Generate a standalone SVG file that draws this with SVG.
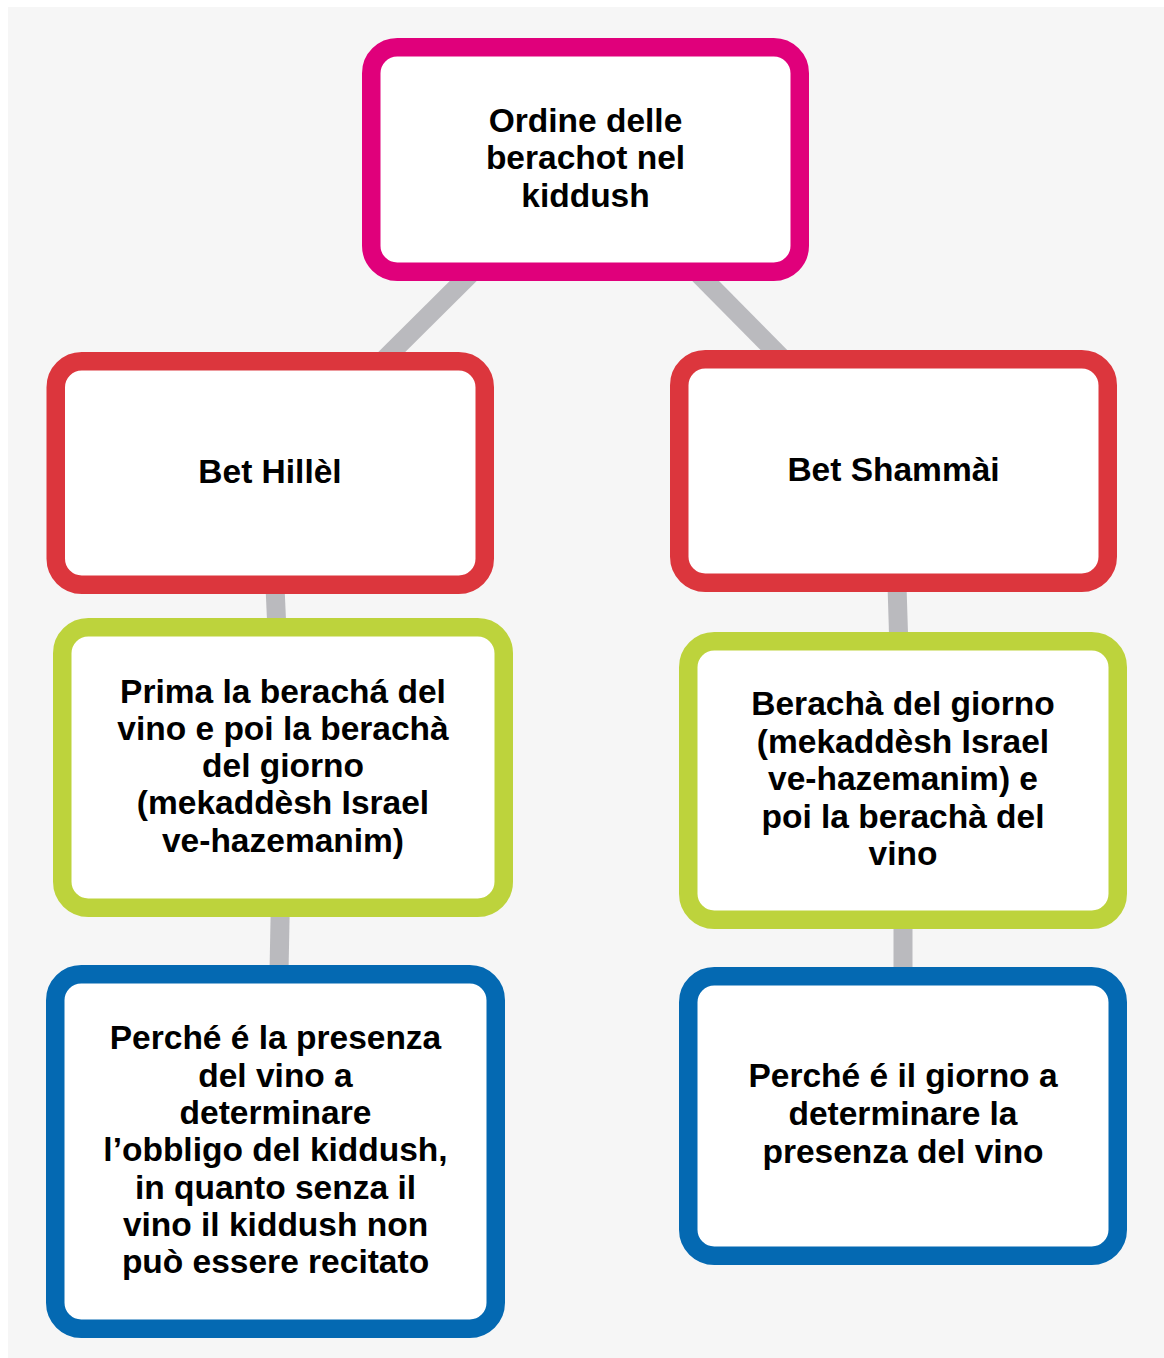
<svg xmlns="http://www.w3.org/2000/svg" width="1164" height="1358" viewBox="0 0 1164 1358">
<style>
.box{fill:#ffffff;stroke-width:18.5}
.mag{stroke:#e0007b}
.red{stroke:#dc363d}
.grn{stroke:#bdd33c}
.blu{stroke:#0469b2}
.conn line{stroke:#bababe;stroke-width:19}
text{font-family:"Liberation Sans",Arial,sans-serif;font-weight:bold;font-size:33.5px;fill:#000;text-anchor:middle}
</style>
<rect x="0" y="0" width="1164" height="1358" fill="#ffffff"/>
<rect x="8" y="7" width="1156" height="1351" fill="#f6f6f6"/>
<g id="connectors" class="conn">
<line x1="585.5" y1="159.5" x2="270" y2="473"/>
<line x1="585.5" y1="159.5" x2="893.5" y2="471"/>
<line x1="270" y1="473" x2="283" y2="767.5"/>
<line x1="283" y1="767.5" x2="275.5" y2="1151.5"/>
<line x1="893.5" y1="471" x2="903" y2="780.5"/>
<line x1="903" y1="780.5" x2="903" y2="1116"/>
</g>
<g id="root">
<rect class="box mag" x="371.25" y="47.25" width="428.5" height="224.5" rx="26"/>
<text x="585.5" y="131.7">Ordine delle</text>
<text x="585.5" y="169.2">berachot nel</text>
<text x="585.5" y="206.7">kiddush</text>
</g>
<g id="bet-hillel">
<rect class="box red" x="55.75" y="361.25" width="429" height="223.5" rx="26"/>
<text x="270" y="483.3">Bet Hillèl</text>
</g>
<g id="bet-shammai">
<rect class="box red" x="679.25" y="359.25" width="428.5" height="223.5" rx="26"/>
<text x="893.5" y="480.7">Bet Shammài</text>
</g>
<g id="hillel-order">
<rect class="box grn" x="62.25" y="627.25" width="441.5" height="280.5" rx="26"/>
<text x="283" y="702.7">Prima la berachá del</text>
<text x="283" y="739.9">vino e poi la berachà</text>
<text x="283" y="777.1">del giorno</text>
<text x="283" y="814.3">(mekaddèsh Israel</text>
<text x="283" y="851.5">ve-hazemanim)</text>
</g>
<g id="shammai-order">
<rect class="box grn" x="688.25" y="641.25" width="429.5" height="278.5" rx="26"/>
<text x="903" y="715">Berachà del giorno</text>
<text x="903" y="752.5">(mekaddèsh Israel</text>
<text x="903" y="790">ve-hazemanim) e</text>
<text x="903" y="827.5">poi la berachà del</text>
<text x="903" y="865">vino</text>
</g>
<g id="hillel-reason">
<rect class="box blu" x="55.25" y="974.25" width="440.5" height="354.5" rx="26"/>
<text x="275.5" y="1049.3">Perché é la presenza</text>
<text x="275.5" y="1086.6">del vino a</text>
<text x="275.5" y="1123.9">determinare</text>
<text x="275.5" y="1161.2">l’obbligo del kiddush,</text>
<text x="275.5" y="1198.5">in quanto senza il</text>
<text x="275.5" y="1235.8">vino il kiddush non</text>
<text x="275.5" y="1273.1">può essere recitato</text>
</g>
<g id="shammai-reason">
<rect class="box blu" x="688.25" y="976.25" width="429.5" height="279.5" rx="26"/>
<text x="903" y="1087.3">Perché é il giorno a</text>
<text x="903" y="1125">determinare la</text>
<text x="903" y="1162.7">presenza del vino</text>
</g>
</svg>
